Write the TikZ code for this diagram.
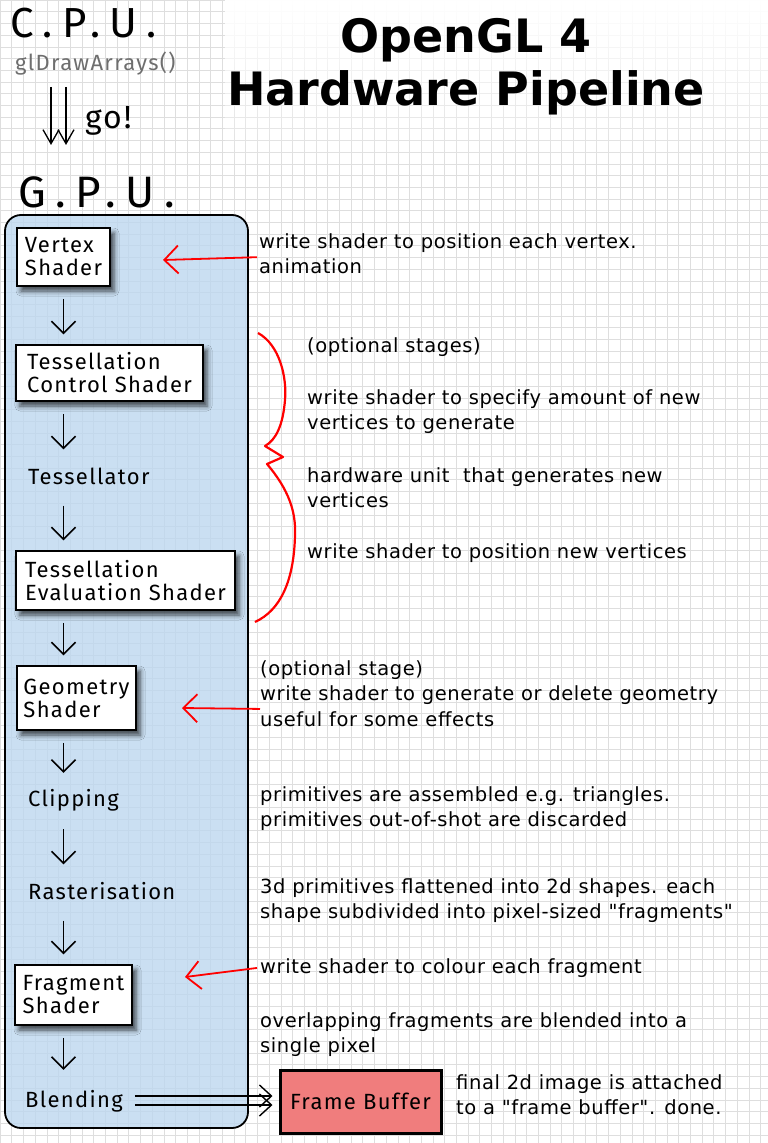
\documentclass[tikz,border=0pt]{standalone}
\usepackage{fontspec}
\newfontfamily\notefont{DejaVu Sans}[LetterSpace=3]
\newfontfamily\titlefont{DejaVu Sans}
\newfontfamily\handfont{Fira Sans}[LetterSpace=6]
\newfontfamily\bighandfont{Fira Sans}[LetterSpace=22]
\usetikzlibrary{arrows.meta,shadows.blur,fadings}

\definecolor{panelblue}{RGB}{189,215,239}
\definecolor{gridgray}{RGB}{222,222,222}
\definecolor{bufferred}{RGB}{240,125,125}
\definecolor{callgray}{RGB}{110,110,110}

\tikzfading[name=fadetitle, top color=transparent!0, bottom color=transparent!100]

\tikzset{
  stagebox/.style={draw, line width=1.5pt, fill=white, align=left, inner sep=0pt,
    font=\handfont\fontsize{22}{23}\selectfont,
    blur shadow={shadow xshift=4pt, shadow yshift=-5pt, shadow blur radius=5pt, shadow opacity=70}},
  stagetext/.style={anchor=west, inner sep=0pt, minimum height=34pt, font=\handfont\fontsize{22}{23}\selectfont},
  handlabel/.style={anchor=base west, inner sep=0pt},
  note/.style={anchor=north west, align=left, inner sep=0pt,
    font=\notefont\fontsize{19.5}{25.5}\selectfont, execute at begin node=\strut},
  flow/.style={-{Straight Barb[length=12pt,width=24pt]}, line width=1.5pt, shorten <=12pt, shorten >=10pt},
  busflow/.style={-{Straight Barb[length=12pt,width=22pt]}, line width=1.4pt, shorten >=6pt},
  godown/.style={-{Straight Barb[length=14pt,width=16pt]}, line width=1.3pt, shorten <=12pt, shorten >=31pt},
  pointer/.style={red, -{Straight Barb[length=14pt,width=28pt]}, line width=1.8pt},
}

\begin{document}
\begin{tikzpicture}[x=1pt,y=-1pt]
\useasboundingbox (0,0) rectangle (768,1143);
\fill[white] (0,0) rectangle (768,1143);
\draw[gridgray, line width=0.6pt, step=11.7pt] (0,0) grid (768,1143);
\fill[white, path fading=fadetitle] (225,0) rectangle (768,170);
\draw[line width=1.8pt, fill=panelblue, fill opacity=0.8, rounded corners=16pt] (5,215) rectangle (248,1128);

\node[anchor=north, align=center, inner sep=0pt, font=\titlefont\bfseries\fontsize{46}{53}\selectfont,
  execute at begin node=\strut] (title) at (466,18) {OpenGL 4\\Hardware Pipeline};

\node[handlabel, font=\bighandfont\fontsize{42}{42}\selectfont] (cpu) at (10,37) {C.P.U.};
\node[handlabel, text=callgray, font=\handfont\fontsize{22}{22}\selectfont] (glcall) at (15,70) {glDrawArrays()};
\node[handlabel, font=\handfont\fontsize{32}{32}\selectfont] (go) at (85,128) {go!};
\node[handlabel, font=\bighandfont\fontsize{44}{44}\selectfont] (gpu) at (18,207) {G.P.U.};
\coordinate (goleft) at (51,0);
\coordinate (goright) at (66,0);

\node[stagebox, minimum width=93pt, minimum height=58pt] (vertex) at (63.5,257) {Vertex\\Shader};
\node[stagebox, minimum width=187pt, minimum height=56pt] (tcs) at (109.5,373) {Tessellation\\Control Shader};
\node[stagetext] (tessel) at (28,476.5) {Tessellator};
\node[stagebox, minimum width=219pt, minimum height=59pt] (tes) at (125.5,580.5) {Tessellation\\Evaluation Shader};
\node[stagebox, minimum width=119pt, minimum height=64pt] (geom) at (76.5,698) {Geometry\\Shader};
\node[stagetext] (clip) at (28,800) {Clipping};
\node[stagetext] (raster) at (28,891.5) {Rasterisation};
\node[stagebox, minimum width=117pt, minimum height=60pt] (frag) at (73.5,995) {Fragment\\Shader};
\node[stagetext, minimum height=42pt] (blend) at (25,1101) {Blending};
\node[draw, line width=3pt, fill=bufferred, minimum width=161pt, minimum height=63pt,
  font=\handfont\fontsize{22}{22}\selectfont] (fbuf) at (360.5,1101.5) {Frame Buffer};

\node[note] (notevert) at (259,233) {write shader to position each vertex.\\animation};
\node[note] (noteopt) at (307,334) {(optional stages)};
\node[note] (notetcs) at (307,389) {write shader to specify amount of new\\vertices to generate};
\node[note] (notetessel) at (307,467) {hardware unit\ \ that generates new\\vertices};
\node[note] (notetes) at (307,540) {write shader to position new vertices};
\node[note] (notegeom) at (260,660) {(optional stage)\\write shader to generate or delete geometry\\useful for some effects};
\node[note] (noteclip) at (260,786) {primitives are assembled e.g. triangles.\\primitives out-of-shot are discarded};
\node[note] (noteraster) at (260,878) {3d primitives flattened into 2d shapes. each\\shape subdivided into pixel-sized "fragments"};
\node[note] (notefrag) at (260,955) {write shader to colour each fragment};
\node[note] (noteblend) at (260,1012) {overlapping fragments are blended into a\\single pixel};
\node[note] (notefbuf) at (456,1074) {final 2d image is attached\\to a "frame buffer". done.};

\coordinate (verttip) at (163,260);
\coordinate (geomtip) at (182,708);
\coordinate (fragtip) at (185,977);

\draw[red, line width=2.2pt, line join=round] (258,333) .. controls (280,345) and (287,378) .. (285,400)
  .. controls (283,425) and (276,440) .. (265,446) -- (283,457) -- (267,464)
  .. controls (289,490) and (296,512) .. (295,535) .. controls (294,580) and (281,610) .. (255,622);

\path
  (glcall.south -| goleft) edge[godown] (gpu.north -| goleft)
  (glcall.south -| goright) edge[godown] (gpu.north -| goright)
  (vertex.south) edge[flow] (vertex.south |- tcs.north)
  (tcs.south -| vertex.south) edge[flow] (tessel.north -| vertex.south)
  (tessel.south -| vertex.south) edge[flow] (tes.north -| vertex.south)
  (tes.south -| vertex.south) edge[flow] (geom.north -| vertex.south)
  (geom.south -| vertex.south) edge[flow] (clip.north -| vertex.south)
  (clip.south -| vertex.south) edge[flow] (raster.north -| vertex.south)
  (raster.south -| vertex.south) edge[flow] (frag.north -| vertex.south)
  (frag.south -| vertex.south) edge[flow] (blend.north -| vertex.south)
  ([xshift=12pt,yshift=5pt]blend.east) edge[busflow] ([yshift=5pt]blend.east -| fbuf.west)
  ([xshift=12pt,yshift=-4pt]blend.east) edge[busflow] ([yshift=-4pt]blend.east -| fbuf.west)
  ([xshift=-2pt]notevert.west) edge[pointer] (verttip)
  ([yshift=-12pt]notegeom.west) edge[pointer] (geomtip)
  ([xshift=-3pt]notefrag.west) edge[pointer] (fragtip)
;
\end{tikzpicture}
\end{document}
